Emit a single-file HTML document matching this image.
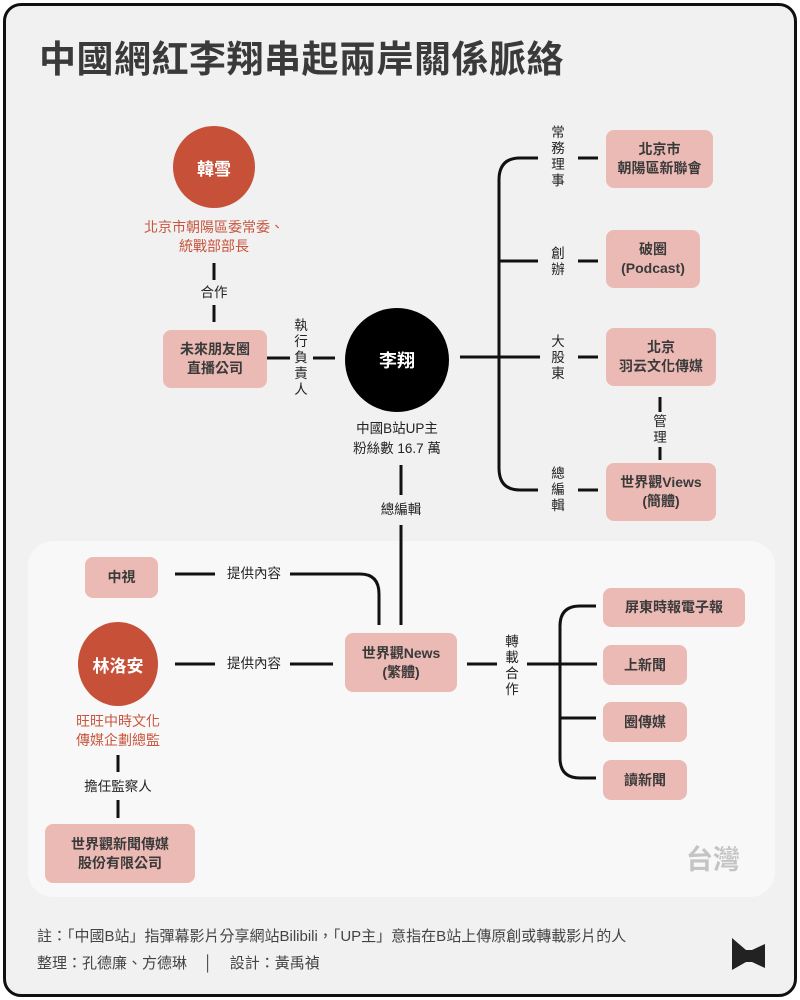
<!DOCTYPE html>
<html><head><meta charset="utf-8"><style>
body{margin:0;width:800px;height:1000px;background:#fff;font-family:"Liberation Sans","Noto Sans CJK TC",sans-serif;position:relative;overflow:hidden}
.a{position:absolute}
.box{position:absolute;background:#ecbab5;border-radius:8px;color:#3a3a3a;font-weight:bold;font-size:14px;line-height:19px;display:flex;align-items:center;justify-content:center;text-align:center}
.t{position:absolute;font-size:13.5px;color:#222;line-height:18px;text-align:center}
.v{position:absolute;font-size:13.5px;color:#222;line-height:16px;width:16px;text-align:center}
.red{position:absolute;color:#c8563f;font-size:14px;line-height:19px;text-align:center}
.c{position:absolute;border-radius:50%;color:#fff;font-weight:bold;font-size:17px;display:flex;align-items:center;justify-content:center}
</style></head><body>
<div class="a" style="left:3px;top:3px;width:788px;height:988px;border:3px solid #111;border-radius:18px;background:#f1f1f1"></div>
<div class="a" style="left:28px;top:541px;width:747px;height:356px;background:#f8f8f8;border-radius:25px"></div>
<div class="a" style="left:39px;top:29px;font-size:37px;font-weight:bold;color:#3a3a3a;letter-spacing:0.5px">中國網紅李翔串起兩岸關係脈絡</div>
<svg class="a" style="left:0;top:0" width="800" height="1000" fill="none" stroke="#111" stroke-width="3">
<path d="M214 263V280M214 305V322M267 358H290M313 358H335"/>
<path d="M401 465V495M401 525V625"/>
<path d="M460 357H540M538 158H520Q499 158 499 180V468Q499 490 520 490H538M499 261H538M578 158H598M578 261H598M578 357H598M578 490H598"/>
<path d="M660 397V412M660 447V460"/>
<path d="M175 574H215M290 574H360Q379 574 379 594V625M175 664H215M290 664H333"/>
<path d="M118 755V772M118 800V818"/>
<path d="M467 664H497M527 664H597M596 606H580Q560 606 560 626V758Q560 778 580 778H596M560 718H596"/>
</svg>
<div class="c" style="left:173px;top:126px;width:82px;height:82px;background:#c65038">韓雪</div>
<div class="red" style="left:114px;top:218px;width:200px">北京市朝陽區委常委、<br>統戰部部長</div>
<div class="t" style="left:194px;top:284px;width:40px">合作</div>
<div class="box" style="left:163px;top:330px;width:104px;height:58px">未來朋友圈<br>直播公司</div>
<div class="v" style="left:293px;top:318px">執<br>行<br>負<br>責<br>人</div>
<div class="c" style="left:345px;top:308px;width:104px;height:104px;background:#000;font-size:18px">李翔</div>
<div class="t" style="left:330px;top:419px;width:134px;line-height:20px">中國B站UP主<br>粉絲數 16.7 萬</div>
<div class="t" style="left:370px;top:501px;width:62px">總編輯</div>
<div class="v" style="left:550px;top:125px">常<br>務<br>理<br>事</div>
<div class="v" style="left:550px;top:246px">創<br>辦</div>
<div class="v" style="left:550px;top:334px">大<br>股<br>東</div>
<div class="v" style="left:550px;top:466px">總<br>編<br>輯</div>
<div class="box" style="left:606px;top:130px;width:107px;height:58px">北京市<br>朝陽區新聯會</div>
<div class="box" style="left:606px;top:230px;width:94px;height:58px">破圈<br>(Podcast)</div>
<div class="box" style="left:606px;top:328px;width:110px;height:58px">北京<br>羽云文化傳媒</div>
<div class="v" style="left:652px;top:414px">管<br>理</div>
<div class="box" style="left:606px;top:463px;width:110px;height:58px">世界觀Views<br>(簡體)</div>
<div class="box" style="left:85px;top:557px;width:73px;height:41px">中視</div>
<div class="t" style="left:218px;top:565px;width:72px">提供內容</div>
<div class="t" style="left:218px;top:655px;width:72px">提供內容</div>
<div class="box" style="left:345px;top:633px;width:112px;height:59px">世界觀News<br>(繁體)</div>
<div class="c" style="left:78px;top:622px;width:80px;height:84px;background:#c65038">林洛安</div>
<div class="red" style="left:58px;top:712px;width:120px">旺旺中時文化<br>傳媒企劃總監</div>
<div class="t" style="left:68px;top:778px;width:100px">擔任監察人</div>
<div class="box" style="left:45px;top:824px;width:150px;height:59px">世界觀新聞傳媒<br>股份有限公司</div>
<div class="v" style="left:504px;top:634px">轉<br>載<br>合<br>作</div>
<div class="box" style="left:603px;top:588px;width:142px;height:39px">屏東時報電子報</div>
<div class="box" style="left:603px;top:645px;width:84px;height:40px">上新聞</div>
<div class="box" style="left:603px;top:702px;width:84px;height:40px">圈傳媒</div>
<div class="box" style="left:603px;top:760px;width:84px;height:40px">讀新聞</div>
<div class="a" style="left:686px;top:838px;font-size:27px;font-weight:bold;color:#c4c4c4">台灣</div>
<div class="a" style="left:37px;top:925px;font-size:15px;color:#444">註：「中國B站」指彈幕影片分享網站Bilibili，「UP主」意指在B站上傳原創或轉載影片的人</div>
<div class="a" style="left:37px;top:952px;font-size:15px;color:#444">整理：孔德廉、方德琳 &nbsp;&nbsp;&nbsp;│&nbsp;&nbsp;&nbsp; 設計：黃禹禎</div>
<svg class="a" style="left:732px;top:938px" width="34" height="34"><path d="M0 0L14 12H20L33 6V30L20 24H14L0 32Z" fill="#222"/></svg>
</body></html>
